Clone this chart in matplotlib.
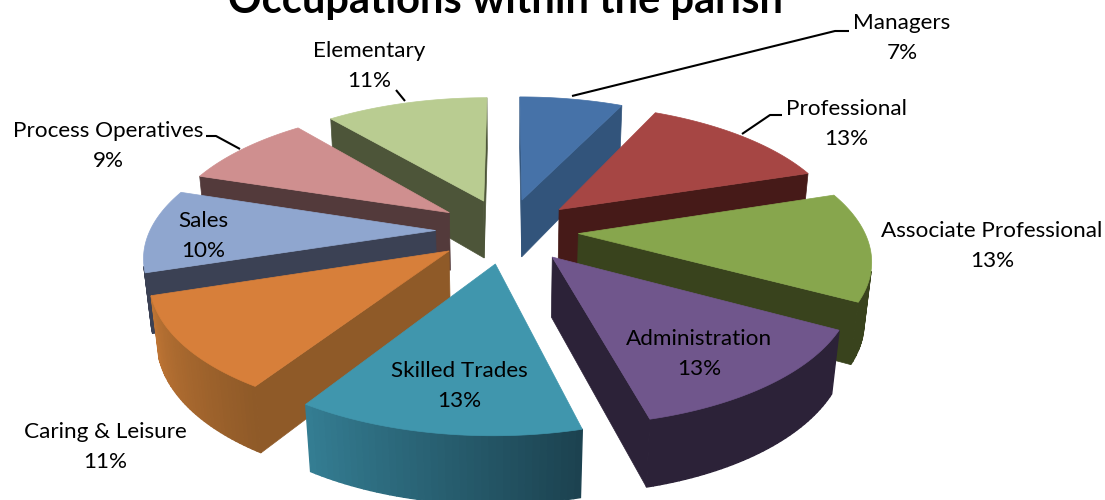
import numpy as np
import matplotlib
matplotlib.use("Agg")
from matplotlib import pyplot as plt
from matplotlib.patches import Polygon

labels = ["Managers", "Professional", "Associate Professional", "Administration",
          "Skilled Trades", "Caring & Leisure", "Sales", "Process Operatives", "Elementary"]
values = [7, 13, 13, 13, 13, 11, 10, 9, 11]

top_colors = ["#4672a8", "#a64644", "#87a64d", "#70568c", "#4096ad", "#d77f3a", "#8fa6cf", "#cf8f8f", "#b9cc91"]
wall_colors = ["#32547b", "#461a18", "#39431d", "#2c2238", "#1d4450", "#8f5a28", "#3b4154", "#533a3b", "#4d5539"]
rim_start = ["#32547b", "#461a18", "#39431d", "#2c2238", "#1c4250", "#8f5a28", "#3b4154", "#533a3b", "#4d5539"]
rim_end = ["#32547b", "#461a18", "#39431d", "#2c2238", "#347d92", "#bd7434", "#3b4154", "#533a3b", "#4d5539"]

# text positions in pixels, (x, y) of the label block centre
label_pos = [(902, 38), (846, 124), (992, 246), (699, 354), (459, 386), (105, 447), (203, 236), (108, 146), (369, 66)]
# leader lines: slice edge -> label
leaders = {
    0: [(572, 96), (835, 31), (849, 31)],
    1: [(742, 134), (770, 115), (782, 115)],
    7: [(240, 149), (216, 136), (206, 136)],
    8: [(405, 101), (396, 90)],
}

# perspective set-up
tilt_sin, tilt_cos = 0.455, 0.89
dist = 5.27
focal = 1505.0
height = 0.235
explode = 0.25
cx, cy = 507.0, 230.5


def project(u, v, z=0.0):
    zc = dist + v * tilt_cos - z * tilt_sin
    yc = v * tilt_sin + z * tilt_cos
    return np.column_stack([cx + focal * u / zc, cy - focal * yc / zc])


def signed_area(p):
    x, y = p[:, 0], p[:, 1]
    return 0.5 * np.sum(x * np.roll(y, -1) - np.roll(x, -1) * y)


def mix(c1, c2, t):
    a = np.array(matplotlib.colors.to_rgb(c1))
    b = np.array(matplotlib.colors.to_rgb(c2))
    return tuple(a + (b - a) * t)


fig = plt.figure(figsize=(11.05, 5), dpi=100)
ax = fig.add_axes([0, 0, 1, 1])
ax.set_xlim(0, 1105)
ax.set_ylim(500, 0)
ax.axis("off")

fracs = np.array(values) / sum(values)
edges = np.concatenate([[0], np.cumsum(fracs)]) * 2 * np.pi
slices = []
for i in range(len(values)):
    a0, a1 = edges[i], edges[i + 1]
    mid = (a0 + a1) / 2
    ou, ov = explode * np.sin(mid), explode * np.cos(mid)
    slices.append((ov + 0.5 * np.cos(mid), i, a0, a1, ou, ov))

# back to front
for depth, i, a0, a1, ou, ov in sorted(slices, reverse=True):
    ang = np.linspace(a0, a1, 41)
    u = ou + np.sin(ang)
    v = ov + np.cos(ang)
    top_arc = project(u, v, 0.0)
    low_arc = project(u, v, -height)
    tip_top = project(np.array([ou]), np.array([ov]), 0.0)
    tip_low = project(np.array([ou]), np.array([ov]), -height)

    # radial walls, keep only those turned to the viewer
    w0 = np.vstack([tip_top, top_arc[0], low_arc[0], tip_low])
    w1 = np.vstack([top_arc[-1], tip_top, tip_low, low_arc[-1]])
    for w in (w0, w1):
        if signed_area(w) < 0:
            ax.add_patch(Polygon(w, closed=True, fc=wall_colors[i], ec=wall_colors[i], lw=0.5))

    # outer rim in small strips for the shading
    for k in range(len(ang) - 1):
        q = np.vstack([top_arc[k], top_arc[k + 1], low_arc[k + 1], low_arc[k]])
        if signed_area(q) < 0:
            c = mix(rim_start[i], rim_end[i], k / (len(ang) - 2))
            ax.add_patch(Polygon(q, closed=True, fc=c, ec=c, lw=1.0))

    top = np.vstack([tip_top, top_arc])
    ax.add_patch(Polygon(top, closed=True, fc=top_colors[i], ec=top_colors[i], lw=0.5))

for i, pts in leaders.items():
    xs, ys = zip(*pts)
    ax.plot(xs, ys, color="black", lw=1.5, solid_capstyle="butt")

for name, val, (x, y) in zip(labels, values, label_pos):
    ax.text(x, y - 15, name, ha="center", va="center", fontsize=16.2, family="Lato", color="black")
    ax.text(x, y + 15, f"{val}%", ha="center", va="center", fontsize=16.2, family="Lato", color="black")

ax.text(505, 1, "Occupations within the parish", ha="center", va="center", fontsize=30,
        family="Lato", fontweight="bold", color="black")

fig.savefig("out.png", dpi=100, facecolor="white")
